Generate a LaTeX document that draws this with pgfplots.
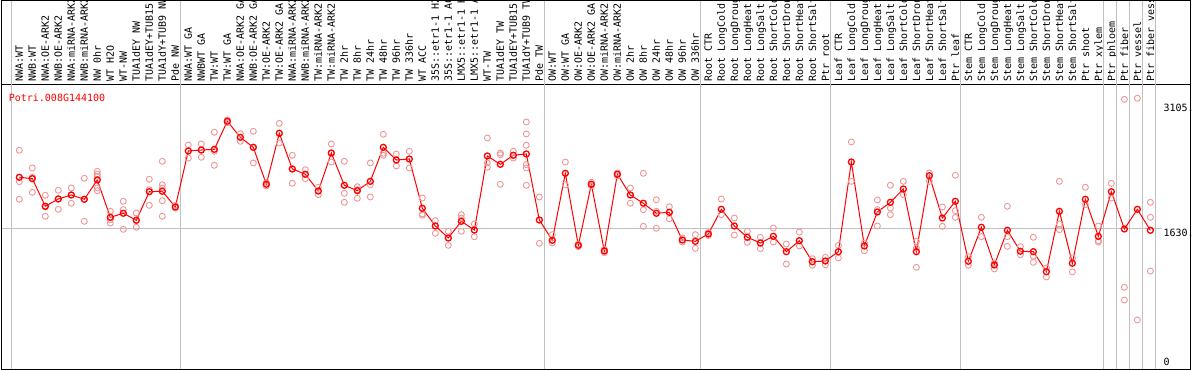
\documentclass[border=0pt]{standalone}
\usepackage{pgfplots}
\pgfplotsset{compat=1.18}
\usepackage{pgfplotstable}
\usepackage{fontspec}
\newfontfamily\mono{DejaVu Sans Mono}
\newcommand\lbl{\mono\fontsize{10bp}{12bp}\selectfont}
\definecolor{gridgray}{RGB}{192,192,192}
\definecolor{reppink}{RGB}{238,150,150}
\pgfplotstableread{
x y
1 2221
2 2205
3 1885
4 1970
5 2016
6 1966
7 2190
8 1757
9 1804
10 1723
11 2054
12 2059
13 1877
14 2526
15 2537
16 2545
17 2870
18 2684
19 2568
20 2140
21 2731
22 2317
23 2256
24 2062
25 2502
26 2128
27 2066
28 2174
29 2568
30 2421
31 2433
32 1862
33 1657
34 1518
35 1711
36 1610
37 2468
38 2371
39 2476
40 2491
41 1726
42 1491
43 2267
44 1433
45 2140
46 1367
47 2256
48 2016
49 1920
50 1804
51 1815
52 1494
53 1479
54 1564
55 1850
56 1657
57 1526
58 1460
59 1537
60 1359
61 1486
62 1243
63 1251
64 1359
65 2398
66 1425
67 1819
68 1931
69 2085
70 1359
71 2239
72 1749
73 1943
74 1248
75 1642
76 1205
77 1607
78 1364
79 1359
80 1127
81 1827
82 1225
83 1966
84 1537
85 2054
86 1622
87 1850
88 1607
}\means
\pgfplotstableread{
x y
1 2534
1 2170
1 1966
2 2329
2 2221
2 2047
3 2012
3 1877
3 1769
4 2070
4 1970
4 1850
5 2097
5 2016
5 1920
6 2209
6 1966
6 1711
7 2290
7 2259
7 2232
7 2097
7 2066
8 1827
8 1730
8 1691
9 1943
9 1846
9 1618
10 1807
10 1723
10 1642
11 2198
11 2077
11 1896
12 2406
12 2135
12 2097
12 1950
12 1769
13 1896
13 1865
14 2595
14 2444
15 2607
15 2453
16 2742
16 2522
16 2360
17 2885
17 2853
18 2726
18 2638
19 2754
19 2568
19 2387
20 2161
20 2120
21 2846
21 2618
22 2476
22 2317
22 2151
23 2309
23 2251
23 2205
24 2105
24 2019
25 2607
25 2502
25 2398
26 2406
26 2035
26 1931
27 2112
27 2077
27 1978
28 2387
28 2135
28 1993
29 2719
29 2499
29 2476
30 2490
30 2352
31 2522
31 2329
32 1981
32 1796
32 1781
33 1718
33 1657
33 1572
34 1595
34 1433
35 1788
35 1749
35 1595
36 1680
36 1533
37 2676
37 2387
37 2337
38 2502
38 2483
38 2140
39 2522
39 2476
39 2444
40 2861
40 2723
40 2592
40 2367
40 2329
40 2128
41 1993
41 1456
42 1556
42 1460
43 2398
43 2135
44 1448
44 1417
45 2163
45 2120
46 1384
46 1349
47 2271
47 2239
48 2097
48 2016
48 1920
49 2267
49 1846
49 1653
50 1961
50 1827
50 1630
51 1880
51 1815
51 1741
52 1518
52 1471
53 1556
53 1398
54 1581
54 1547
55 1969
55 1788
56 1749
56 1552
57 1595
57 1468
58 1526
58 1394
59 1633
59 1471
60 1448
60 1216
61 1587
61 1425
62 1278
62 1201
63 1294
63 1208
64 1433
64 1286
65 2630
65 2174
66 1460
66 1370
67 1958
67 1846
67 1657
68 2128
68 1865
68 1788
69 2174
69 2019
70 1479
70 1402
70 1178
71 2271
71 2174
72 1877
72 1653
73 2244
73 1834
73 1757
74 1301
74 1201
75 1757
75 1533
76 1228
76 1159
77 1885
77 1533
77 1421
78 1417
78 1324
79 1526
79 1306
79 1236
80 1170
80 1066
81 2174
81 1680
81 1614
82 1286
82 1124
83 2105
83 1903
84 1657
84 1486
84 1471
85 2151
85 1981
86 3124
86 946
86 799
87 3136
87 568
88 1931
88 1757
88 1135
}\reps
\begin{document}
\begin{tikzpicture}[x=1bp,y=1bp]
\useasboundingbox (0,0) rectangle (1194,370);
\clip (0,0) rectangle (1194,370);
\begin{axis}[
  at={(1.7bp,1bp)}, anchor=south west,
  width=1188.3bp, height=284bp, scale only axis,
  xmin=-0.354, xmax=91.05, ymin=0, ymax=3290,
  clip=false,
  axis line style={black, line width=1bp},
  ytick=\empty,
  xtick={1,...,88},
  xticklabels={NWA:WT, NWB:WT, NWA:OE-ARK2, NWB:OE-ARK2, NWA:miRNA-ARK2, NWB:miRNA-ARK2, NW 0hr, WT H2O, WT-NW, TUA1dEY NW, TUA1dEY+TUB15 NW, TUA1dY+TUB9 NW, Pde NW,
    NWA:WT GA, NWBWT GA, TW:WT, TW:WT GA, NWA:OE-ARK2 GA, NWB:OE-ARK2 GA, TW:OE-ARK2, TW:OE-ARK2 GA, NWA:miRNA-ARK2, NWB:miRNA-ARK2, TW:miRNA-ARK2, TW:miRNA-ARK2, TW 2hr, TW 8hr, TW 24hr, TW 48hr, TW 96hr, TW 336hr, WT ACC, 35S::etr1-1 H2O, 35S::etr1-1 ACC, LMX5::etr1-1 H2O, LMX5::etr1-1 ACC, WT-TW, TUA1dEY TW, TUA1dEY+TUB15 TW, TUA1dY+TUB9 TW, Pde TW,
    OW:WT, OW:WT GA, OW:OE-ARK2, OW:OE-ARK2 GA, OW:miRNA-ARK2, OW:miRNA-ARK2, OW 2hr, OW 8hr, OW 24hr, OW 48hr, OW 96hr, OW 336hr,
    Root CTR, Root LongCold, Root LongDrought, Root LongHeat, Root LongSalt, Root ShortCold, Root ShortDrought, Root ShortHeat, Root ShortSalt, Ptr root,
    Leaf CTR, Leaf LongCold, Leaf LongDrought, Leaf LongHeat, Leaf LongSalt, Leaf ShortCold, Leaf ShortDrought, Leaf ShortHeat, Leaf ShortSalt, Ptr leaf,
    Stem CTR, Stem LongCold, Stem LongDrought, Stem LongHeat, Stem LongSalt, Stem ShortCold, Stem ShortDrought, Stem ShortHeat, Stem ShortSalt, Ptr shoot, Ptr xylem,
    Ptr phloem, Ptr fiber, Ptr vessel, Ptr fiber vessel},
  xticklabel pos=upper,
  major tick length=0pt,
  xticklabel style={font=\lbl, rotate=90, anchor=west, inner sep=0pt, text height=7.3bp, text depth=0pt},
  xticklabel shift=3bp,
]
\pgfplotsinvokeforeach{0,13,41,53,63,73,84,85,86,87,88}{
  \draw[gridgray, line width=1bp] (axis cs:#1.4,0) -- (axis cs:#1.4,4400);
}
\draw[gridgray, line width=1bp] (axis cs:-0.354,1630) -- (axis cs:88.9,1630);
\addplot[only marks, mark=o, mark size=3bp, color=reppink, mark options={line width=0.9bp}] table[x=x,y=y]{\reps};
\addplot[red, line width=1bp, mark=o, mark size=3bp, mark options={line width=1.3bp, solid}] table[x=x,y=y]{\means};
\node[anchor=base west, text=red, font=\lbl, inner sep=0pt] at (axis cs:0.18,3101) {Potri.008G144100};
\node[anchor=base west, font=\lbl, inner sep=0pt] at (axis cs:89.0,2985) {3105.};
\node[anchor=base west, font=\lbl, inner sep=0pt] at (axis cs:89.0,1537) {1630.};
\node[anchor=base west, font=\lbl, inner sep=0pt] at (axis cs:89.0,43) {0};
\end{axis}
\draw[line width=1bp] (1.7,285) -- (1.7,369.5) -- (1190,369.5) -- (1190,285);
\end{tikzpicture}
\end{document}
